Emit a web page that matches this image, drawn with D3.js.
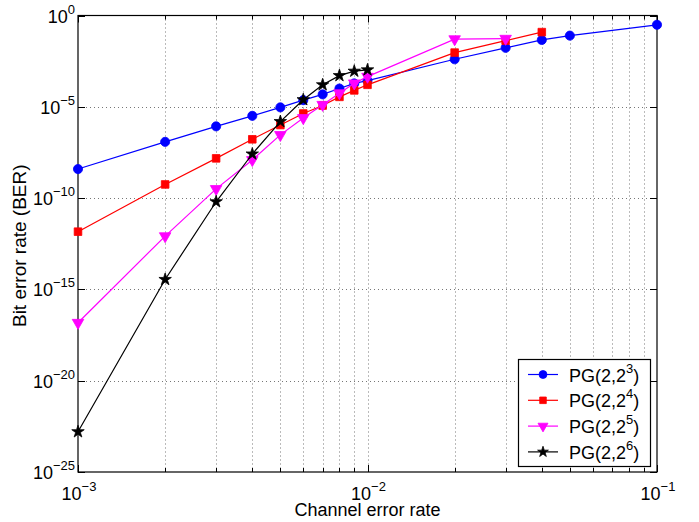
<!DOCTYPE html>
<html>
<head>
<meta charset="utf-8">
<script src="https://cdn.jsdelivr.net/npm/d3@7"></script>
<style>
  body { margin: 0; background: #fff; }
  text { font-family: "Liberation Sans", Arial, sans-serif; fill: #000; }
</style>
</head>
<body>
<div id="chart"></div>
<script>
// channel error rates
var xAll = [1e-3, 2e-3, 3e-3, 4e-3, 5e-3, 6e-3, 7e-3, 8e-3, 9e-3, 1e-2, 2e-2, 3e-2, 4e-2, 5e-2, 1e-1];

// BER per code
var berPG3 = [3.9e-9, 1.2e-7, 8.5e-7, 3.2e-6, 9.3e-6, 2.3e-5, 4.8e-5, 1.0e-4, 1.9e-4, 2.7e-4, 4.0e-3, 1.7e-2, 4.6e-2, 7.9e-2, 0.31];
var berPG4 = [1.45e-12, 5.6e-10, 1.5e-8, 1.66e-7, 1.0e-6, 4.3e-6, 1.17e-5, 3.5e-5, 7.9e-5, 1.6e-4, 9.3e-3, 4.2e-2, 0.123];
var berPG5 = [1.5e-17, 8.3e-13, 3.2e-10, 1.23e-8, 2.9e-7, 2.45e-6, 1.3e-5, 5.6e-5, 1.95e-4, 4.5e-4, 5.1e-2, 5.4e-2];
var berPG6 = [1.6e-23, 3.5e-15, 6.3e-11, 2.6e-8, 1.55e-6, 2.45e-5, 1.6e-4, 5.1e-4, 8.9e-4, 1.05e-3];

var seriesNames = ['3', '4', '5', '6'];   // exponent in PG(2,2^k)
var xTickExp = [-3, -2, -1];
var yTickExp = [0, -5, -10, -15, -20, -25];

var width = 699, height = 522;
var pL = 78, pR = 657, pT = 15.5, pB = 472;

var x = d3.scaleLog().domain([1e-3, 1e-1]).range([pL, pR]);
var y = d3.scaleLog().domain([1e-25, 1]).range([pB, pT]);

var svg = d3.select('#chart').append('svg')
    .attr('width', width)
    .attr('height', height);

// grid: x at every minor/major tick, y at labelled decades
var xGrid = [];
for (var e = -3; e < -1; e++) {
  for (var m = 1; m < 10; m++) xGrid.push(m * Math.pow(10, e));
}
xGrid.push(1e-1);

svg.append('g').selectAll('line').data(xGrid.slice(1, -1)).enter().append('line')
    .attr('x1', function(d) { return Math.round(x(d)) + 0.5; })
    .attr('x2', function(d) { return Math.round(x(d)) + 0.5; })
    .attr('y1', pT).attr('y2', pB)
    .style('stroke', '#777').style('stroke-dasharray', '1,3');

svg.append('g').selectAll('line').data(yTickExp.slice(1, -1)).enter().append('line')
    .attr('y1', function(d) { return Math.round(y(Math.pow(10, d))) + 0.5; })
    .attr('y2', function(d) { return Math.round(y(Math.pow(10, d))) + 0.5; })
    .attr('x1', pL).attr('x2', pR)
    .style('stroke', '#777').style('stroke-dasharray', '1,3');

// ticks (inside, both sides)
var tickG = svg.append('g').style('stroke', '#000');
xGrid.forEach(function(d) {
  var major = xTickExp.indexOf(Math.round(Math.log10(d) * 1000) / 1000) >= 0;
  var len = major ? 7 : 4;
  var px = Math.round(x(d)) + 0.5;
  tickG.append('line').attr('x1', px).attr('x2', px).attr('y1', pB).attr('y2', pB - len);
  tickG.append('line').attr('x1', px).attr('x2', px).attr('y1', pT).attr('y2', pT + len);
});
yTickExp.forEach(function(d) {
  var py = Math.round(y(Math.pow(10, d))) + 0.5;
  tickG.append('line').attr('x1', pL).attr('x2', pL + 7).attr('y1', py).attr('y2', py);
  tickG.append('line').attr('x1', pR).attr('x2', pR - 7).attr('y1', py).attr('y2', py);
});

svg.append('rect')
    .attr('x', pL).attr('y', pT)
    .attr('width', pR - pL).attr('height', pB - pT)
    .style('fill', 'none').style('stroke', '#000').style('stroke-width', 1.2);

// tick labels
function powLabel(sel, exp) {
  sel.append('tspan').text('10');
  sel.append('tspan').attr('dy', -9).style('font-size', '13px')
      .text(exp === 0 ? '0' : '\u2212' + Math.abs(exp));
}

svg.append('g').selectAll('text').data(yTickExp).enter().append('text')
    .attr('x', 75)
    .attr('y', function(d) { return y(Math.pow(10, d)) + 7; })
    .attr('text-anchor', 'end')
    .style('font-size', '18px')
    .each(function(d) { powLabel(d3.select(this), d); });

svg.append('g').selectAll('text').data(xTickExp).enter().append('text')
    .attr('x', function(d) { return x(Math.pow(10, d)) + 1; })
    .attr('y', 500)
    .attr('text-anchor', 'middle')
    .style('font-size', '18px')
    .each(function(d) { powLabel(d3.select(this), d); });

// axis titles
svg.append('text')
    .attr('x', (pL + pR) / 2).attr('y', 516)
    .attr('text-anchor', 'middle')
    .style('font-size', '18px')
    .text('Channel error rate');

svg.append('text')
    .attr('transform', 'translate(26,' + ((pT + pB) / 2 + 2) + ') rotate(-90)')
    .attr('text-anchor', 'middle')
    .style('font-size', '19px')
    .text('Bit error rate (BER)');

// series
var series = [
  { name: seriesNames[0], values: berPG3, color: '#0000ff', symbol: d3.symbolCircle, size: 66, rot: 0 },
  { name: seriesNames[1], values: berPG4, color: '#ff0000', symbol: d3.symbolSquare, size: 58, rot: 0 },
  { name: seriesNames[2], values: berPG5, color: '#ff00ff', symbol: d3.symbolTriangle, size: 58, rot: 180 },
  { name: seriesNames[3], values: berPG6, color: '#000000', symbol: d3.symbolStar, size: 48, rot: 0 }
];

var line = d3.line()
    .x(function(d) { return x(d[0]); })
    .y(function(d) { return y(d[1]); });

series.forEach(function(s) {
  var pts = s.values.map(function(v, i) { return [xAll[i], v]; });
  svg.append('path')
      .datum(pts)
      .attr('d', line)
      .style('fill', 'none')
      .style('stroke', s.color)
      .style('stroke-width', 1.2);
  svg.append('g').selectAll('path').data(pts).enter().append('path')
      .attr('d', d3.symbol().type(s.symbol).size(s.size))
      .attr('transform', function(d) {
        return 'translate(' + x(d[0]) + ',' + y(d[1]) + ') rotate(' + s.rot + ')';
      })
      .style('fill', s.color)
      .style('stroke', s.color)
      .style('stroke-width', 0.8);
});

// legend
var lg = svg.append('g');
lg.append('rect')
    .attr('x', 518.5).attr('y', 359.5)
    .attr('width', 132).attr('height', 107)
    .style('fill', '#fff').style('stroke', '#000').style('stroke-width', 1.2);

series.forEach(function(s, i) {
  var cy = 374.5 + i * 25.8;
  lg.append('line')
      .attr('x1', 528).attr('x2', 558).attr('y1', cy).attr('y2', cy)
      .style('stroke', s.color).style('stroke-width', 1.2);
  lg.append('path')
      .attr('d', d3.symbol().type(s.symbol).size(s.size * 0.75))
      .attr('transform', 'translate(543,' + cy + ') rotate(' + s.rot + ')')
      .style('fill', s.color).style('stroke', s.color).style('stroke-width', 0.8);
  var t = lg.append('text')
      .attr('x', 569).attr('y', cy + 7)
      .style('font-size', '18px');
  t.append('tspan').text('PG(2,2');
  t.append('tspan').attr('dy', -9).style('font-size', '13px').text(s.name);
  t.append('tspan').attr('dy', 9).text(')');
});
</script>
</body>
</html>
